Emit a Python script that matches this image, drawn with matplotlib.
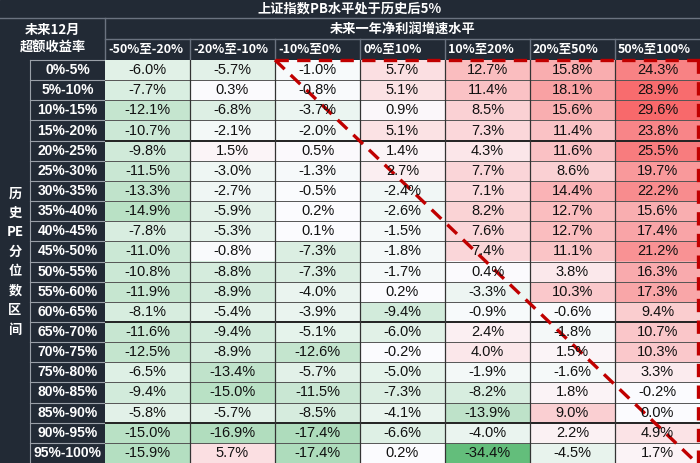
import matplotlib.pyplot as plt
import numpy as np
from matplotlib.colors import LinearSegmentedColormap, TwoSlopeNorm
from matplotlib.patches import Rectangle

plt.rcParams['font.family'] = ['Noto Sans CJK SC', 'DejaVu Sans']

title = '上证指数PB水平处于历史后5%'
group_title = '未来一年净利润增速水平'
corner_title = '未来12月\n超额收益率'
side_title = '历\n史\nPE\n分\n位\n数\n区\n间'

col_labels = ['-50%至-20%', '-20%至-10%', '-10%至0%', '0%至10%',
              '10%至20%', '20%至50%', '50%至100%']
row_labels = ['0%-5%', '5%-10%', '10%-15%', '15%-20%', '20%-25%', '25%-30%',
              '30%-35%', '35%-40%', '40%-45%', '45%-50%', '50%-55%', '55%-60%',
              '60%-65%', '65%-70%', '70%-75%', '75%-80%', '80%-85%', '85%-90%',
              '90%-95%', '95%-100%']

values = np.array([
    [-6.0, -5.7, -1.0, 5.7, 12.7, 15.8, 24.3],
    [-7.7, 0.3, -0.8, 5.1, 11.4, 18.1, 28.9],
    [-12.1, -6.8, -3.7, 0.9, 8.5, 15.6, 29.6],
    [-10.7, -2.1, -2.0, 5.1, 7.3, 11.4, 23.8],
    [-9.8, 1.5, 0.5, 1.4, 4.3, 11.6, 25.5],
    [-11.5, -3.0, -1.3, 2.7, 7.7, 8.6, 19.7],
    [-13.3, -2.7, -0.5, -2.4, 7.1, 14.4, 22.2],
    [-14.9, -5.9, 0.2, -2.6, 8.2, 12.7, 15.6],
    [-7.8, -5.3, 0.1, -1.5, 7.6, 12.7, 17.4],
    [-11.0, -0.8, -7.3, -1.8, 7.4, 11.1, 21.2],
    [-10.8, -8.8, -7.3, -1.7, 0.4, 3.8, 16.3],
    [-11.9, -8.9, -4.0, 0.2, -3.3, 10.3, 17.3],
    [-8.1, -5.4, -3.9, -9.4, -0.9, -0.6, 9.4],
    [-11.6, -9.4, -5.1, -6.0, 2.4, -1.8, 10.7],
    [-12.5, -8.9, -12.6, -0.2, 4.0, 1.5, 10.3],
    [-6.5, -13.4, -5.7, -5.0, -1.9, -1.6, 3.3],
    [-9.4, -15.0, -11.5, -7.3, -8.2, 1.8, -0.2],
    [-5.8, -5.7, -8.5, -4.1, -13.9, 9.0, 0.0],
    [-15.0, -16.9, -17.4, -6.6, -4.0, 2.2, 4.9],
    [-15.9, 5.7, -17.4, 0.2, -34.4, -4.5, 1.7],
])

dark = '#222a35'
line_grey = '#6b7380'
W, H = 700, 463
left_w = 105          # width of the row-label block
side_w = 30           # width of the vertical side title
head_h = 60           # height of the header block
title_h = 18
group_h = 39

nrows, ncols = values.shape
col_w = (W - left_w) / ncols
row_h = (H - head_h) / nrows

fig = plt.figure(figsize=(7, 4.63), dpi=100)

# background / header axes in pixel units
bg = fig.add_axes([0, 0, 1, 1])
bg.set_xlim(0, W)
bg.set_ylim(H, 0)
bg.axis('off')
bg.add_patch(Rectangle((0, 0), W, H, color=dark, zorder=0))

bg.text(W / 2, title_h / 2, title, color='white', fontsize=9.5, fontweight='bold',
        ha='center', va='center')
bg.plot([0, W], [title_h, title_h], color=line_grey, lw=1)
bg.text((left_w + W) / 2, (title_h + group_h) / 2, group_title, color='white',
        fontsize=9.5, fontweight='bold', ha='center', va='center')
bg.plot([left_w, W], [group_h, group_h], color=line_grey, lw=1)
bg.plot([left_w, left_w], [title_h, head_h], color=line_grey, lw=1)
bg.text(left_w / 2, (title_h + head_h) / 2, corner_title, color='white', fontsize=9.5,
        fontweight='bold', ha='center', va='center', linespacing=1.3)

for j, lab in enumerate(col_labels):
    x0 = left_w + j * col_w
    bg.text(x0 + 3, (group_h + head_h) / 2, lab, color='white', fontsize=9,
            fontweight='bold', ha='left', va='center')
    if j > 0:
        bg.plot([x0, x0], [group_h, head_h], color=line_grey, lw=1)

for i, lab in enumerate(row_labels):
    yc = head_h + (i + 0.5) * row_h
    bg.text((side_w + left_w) / 2, yc, lab, color='white', fontsize=10,
            fontweight='bold', ha='center', va='center',
            family=['Liberation Sans', 'DejaVu Sans'])
    bg.plot([side_w, left_w], [head_h + i * row_h] * 2, color='#9aa0a8', lw=0.8)
bg.plot([side_w, side_w], [head_h, H], color='#9aa0a8', lw=0.8)

bg.text(side_w / 2, (head_h + H) / 2, side_title, color='white', fontsize=9.5,
        fontweight='bold', ha='center', va='center', linespacing=1.5)

# heat-map block
cmap = LinearSegmentedColormap.from_list('gwr', ['#63be7b', '#fcfcff', '#f8696b'])
norm = TwoSlopeNorm(vmin=values.min(), vcenter=0, vmax=values.max())

ax = fig.add_axes([left_w / W, 0, (W - left_w) / W, (H - head_h) / H])
ax.imshow(values, cmap=cmap, norm=norm, aspect='auto', interpolation='nearest')
ax.set_xlim(-0.5, ncols - 0.5)
ax.set_ylim(nrows - 0.5, -0.5)
ax.axis('off')

for i in range(nrows):
    for j in range(ncols):
        ax.text(j, i, f'{values[i, j]:.1f}%', ha='center', va='center', fontsize=10.5,
                color='#111111', family=['Liberation Sans', 'DejaVu Sans'])

thick_after = [3, 12, 17]
for i in range(1, nrows):
    ax.axhline(i - 0.5, color='#222222' if i - 1 in thick_after else '#555555',
               lw=1.4 if i - 1 in thick_after else 0.7)
for j in range(1, ncols):
    ax.axvline(j - 0.5, color='#333333', lw=0.9)

# red dashed marks
red = '#c00000'
dash = dict(color=red, lw=2.4, linestyle=(0, (4, 2.5)), clip_on=False)
ax.plot([1.5, ncols - 0.5], [-0.5, -0.5], **dash)
ax.plot([ncols - 0.52, ncols - 0.52], [-0.5, nrows - 0.5], **dash)
ax.plot([1.5, ncols - 0.55], [-0.5, nrows - 0.55], **dash)

fig.savefig('out.png', dpi=100)
